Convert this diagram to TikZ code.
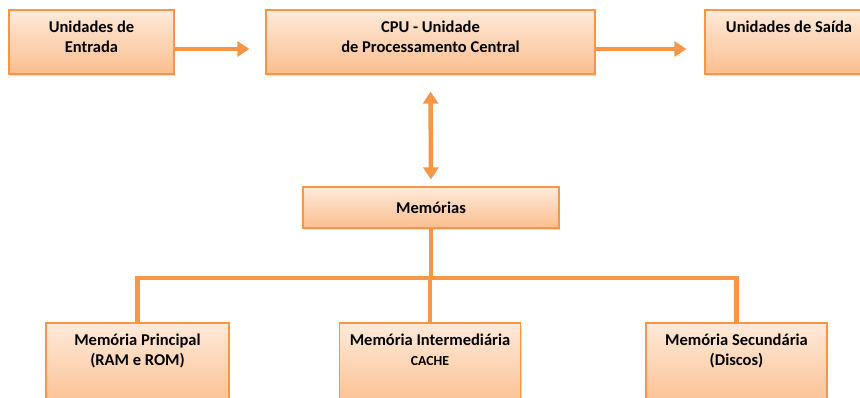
\documentclass[tikz,border=0pt]{standalone}
\usepackage{fontspec}
\setmainfont{Carlito}
\usetikzlibrary{arrows.meta, positioning, calc, shadows}

\begin{document}
\begin{tikzpicture}[x=1pt, y=-1pt,
    box/.style={draw=boxline, line width=1.2pt, top color=boxtop, bottom color=boxbottom,
        drop shadow={opacity=0.25, shadow xshift=1pt, shadow yshift=-2.5pt},
        inner sep=0pt, font=\bfseries\fontsize{16.5}{20}\selectfont},
    boxtext/.style={inner sep=0pt, align=center, font=\bfseries\fontsize{16.5}{20}\selectfont},
    link/.style={draw=boxline, line width=4.5pt},
    tip/.style={-{Triangle[width=15pt, length=12pt]}}]

    % Define colors
    \definecolor{boxline}{RGB}{247, 150, 70}
    \definecolor{boxtop}{RGB}{254, 234, 218}
    \definecolor{boxbottom}{RGB}{251, 190, 142}

    \useasboundingbox (0,0) rectangle (860,398);

    % Top row
    \node[box, minimum width=165pt, minimum height=64pt] (entrada) at (91.5,42) {};
    \node[boxtext, below=11.5pt of entrada.north] (entradatxt) {Unidades de\\Entrada};

    \node[box, minimum width=329pt, minimum height=64pt] (cpu) at (430.5,42) {};
    \node[boxtext, below=11.5pt of cpu.north] (cputxt) {CPU - Unidade\\de Processamento Central};

    \node[box, minimum width=162pt, minimum height=64pt] (saida) at (786,42) {};
    \node[boxtext, below=11.5pt of saida.north, xshift=3pt] (saidatxt) {Unidades de Saída};

    % Memories
    \node[box, minimum width=256pt, minimum height=41pt] (mem) at (431,207.5) {Memórias};

    \node[box, minimum width=183pt, minimum height=86pt] (principal) at (137.5,366) {};
    \node[boxtext, below=11.5pt of principal.north] (principaltxt) {Memória Principal\\(RAM e ROM)};

    \node[box, minimum width=181pt, minimum height=86pt] (inter) at (430,366) {};
    \node[boxtext, below=11.5pt of inter.north] (intertxt) {Memória Intermediária\\{\fontsize{13.8}{20}\selectfont CACHE}};

    \node[box, minimum width=181pt, minimum height=86pt] (secundaria) at (736.5,366) {};
    \node[boxtext, below=11.5pt of secundaria.north] (secundariatxt) {Memória Secundária\\(Discos)};

    % Arrows
    \draw[link, tip, shorten >=16pt] ([yshift=-7pt]entrada.east) -- ([yshift=-7pt]cpu.west);
    \draw[link, tip, shorten >=18pt] ([yshift=-7pt]cpu.east) -- ([yshift=-7pt]saida.west);
    \draw[link, {Triangle[width=15pt, length=12pt]}-{Triangle[width=15pt, length=12pt]},
        shorten <=17pt, shorten >=7pt] (cpu.south) -- (mem.north);

    % Tree
    \coordinate (bus) at (431,278);
    \draw[link] (mem.south) -- (bus);
    \draw[link, line join=miter] (principal.north) |- (bus) -| (secundaria.north);
    \draw[link] (inter.north) -- (inter.north |- bus);

\end{tikzpicture}
\end{document}
